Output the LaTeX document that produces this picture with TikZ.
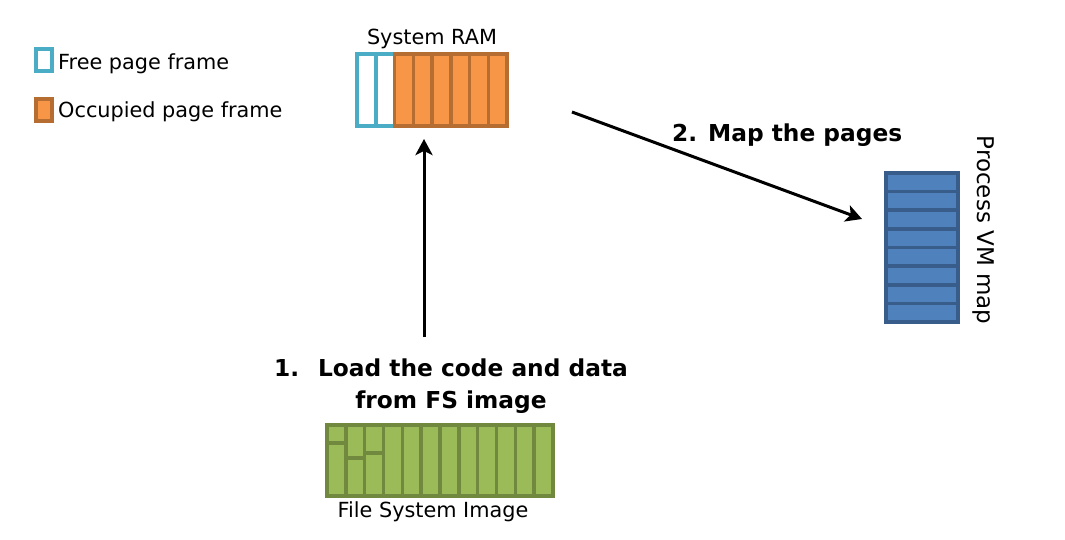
\documentclass[tikz,border=0pt]{standalone}
\usepackage{fontspec}
\setmainfont{DejaVu Sans}
\usetikzlibrary{arrows.meta}
\definecolor{freeB}{HTML}{4BACC6}
\definecolor{occF}{HTML}{F79646}
\definecolor{occB}{HTML}{B66D31}
\definecolor{fsF}{HTML}{9BBB59}
\definecolor{fsB}{HTML}{71893F}
\definecolor{vmF}{HTML}{4F81BD}
\definecolor{vmB}{HTML}{385D8A}
\tikzset{
  freebox/.style={draw=freeB,fill=white,line width=3.5pt},
  occbox/.style={draw=occB,fill=occF,line width=3.5pt},
  fsbox/.style={draw=fsB,fill=fsF,line width=3.5pt},
  vmbox/.style={draw=vmB,fill=vmF,line width=3.5pt},
  lbl/.style={inner sep=0pt,font=\fontsize{20.8}{25}\selectfont},
  blbl/.style={inner sep=0pt,font=\fontsize{23.3}{32}\selectfont\bfseries,align=center},
  arr/.style={draw=black,line width=3pt,-{Stealth[length=16pt,width=17pt,inset=4pt]}}
}
\begin{document}
\begin{tikzpicture}[x=1pt,y=-1pt]
\useasboundingbox (0,0) rectangle (1065,540);
% legend
\draw[freebox] (36,49) rectangle (52,71);
\node[lbl,anchor=base west] (freelbl) at (58,70) {Free page frame};
\draw[occbox] (36,99) rectangle (52,121);
\node[lbl,anchor=base west] (occlbl) at (58,118) {Occupied page frame};
% system RAM
\foreach \i in {0,1} {\draw[freebox] (357+18.75*\i,54) rectangle (357+18.75*\i+18.75,126);}
\foreach \i in {2,...,7} {\draw[occbox] (357+18.75*\i,54) rectangle (357+18.75*\i+18.75,126);}
\node[inner sep=0pt,minimum width=150pt,minimum height=72pt] (ram) at (432,90) {};
\node[lbl,anchor=base] (ramlbl) at (432,45) {System RAM};
% File system image
\def\w{18.83}
\draw[fsbox] (327,425) rectangle (327+\w,443);
\draw[fsbox] (327,443) rectangle (327+\w,496);
\draw[fsbox] (327+\w,425) rectangle (327+2*\w,458);
\draw[fsbox] (327+\w,458) rectangle (327+2*\w,496);
\draw[fsbox] (327+2*\w,425) rectangle (327+3*\w,453);
\draw[fsbox] (327+2*\w,453) rectangle (327+3*\w,496);
\foreach \i in {3,...,11} {\draw[fsbox] (327+\w*\i,425) rectangle (327+\w*\i+\w,496);}
\node[inner sep=0pt,minimum width=226pt,minimum height=71pt] (fs) at (440,460.5) {};
\node[lbl,anchor=base] (fslbl) at (433,517) {File System Image};
% process VM map
\foreach \i in {0,...,7} {\draw[vmbox] (886,173+18.625*\i) rectangle (958,173+18.625*\i+18.625);}
\node[inner sep=0pt,minimum width=72pt,minimum height=149pt] (vm) at (922,247.5) {};
\node[inner sep=0pt,font=\fontsize{23}{28}\selectfont,rotate=-90,anchor=center] (vmlbl) at (983,230) {Process VM map};
% labels
\node[blbl,anchor=base] (step1) at (451,408) {1.~ Load the code and data\\from FS image};
\node[blbl,anchor=base west] (step2) at (672,142) {2. Map the pages};
% arrows
\coordinate (a1s) at (424,337);
\coordinate (a1e) at (424,139);
\coordinate (a2s) at (572,112);
\coordinate (a2e) at (862,219);
\draw[arr] (a1s) -- (a1e);
\draw[arr] (a2s) -- (a2e);
\end{tikzpicture}
\end{document}
